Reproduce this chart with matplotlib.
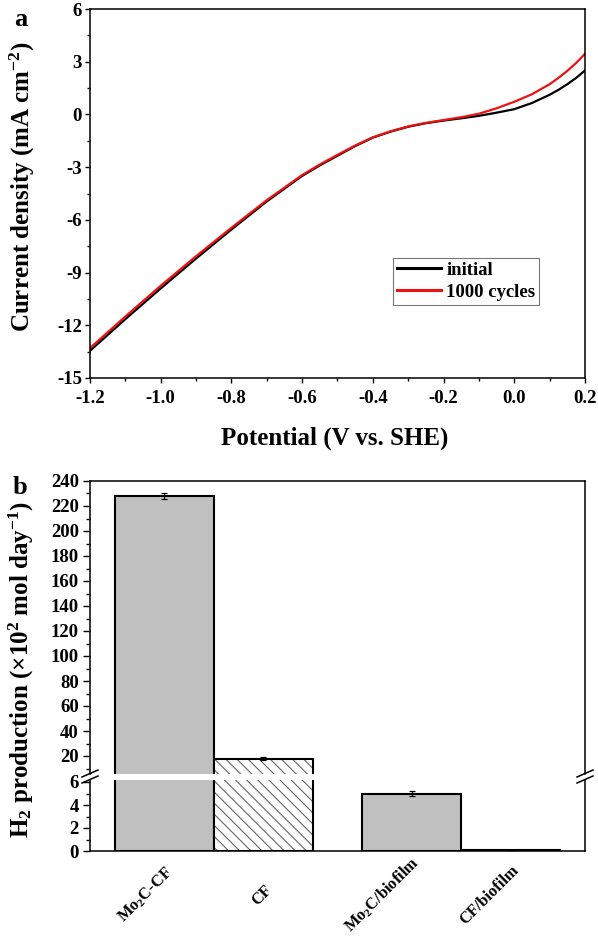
import matplotlib
matplotlib.use('Agg')
import matplotlib.pyplot as plt
from matplotlib.ticker import MultipleLocator, FormatStrFormatter
from matplotlib.transforms import ScaledTranslation

plt.rcParams['font.family'] = ['Liberation Serif', 'DejaVu Serif']
plt.rcParams['font.weight'] = 'bold'
plt.rcParams['axes.unicode_minus'] = False
plt.rcParams['mathtext.fontset'] = 'custom'
plt.rcParams['mathtext.rm'] = 'Liberation Serif:bold'
plt.rcParams['mathtext.it'] = 'Liberation Serif:bold'
plt.rcParams['mathtext.bf'] = 'Liberation Serif:bold'
plt.rcParams['mathtext.default'] = 'rm'
plt.rcParams['hatch.linewidth'] = 0.8

# panel a: polarisation curves
potential = [-1.2, -1.1, -1.0, -0.9, -0.8, -0.7, -0.6, -0.55, -0.5, -0.45, -0.4, -0.35,
             -0.3, -0.25, -0.2, -0.15, -0.1, -0.05, 0.0, 0.05, 0.1, 0.125, 0.15, 0.175, 0.2]
j_initial = [-13.45, -11.65, -9.9, -8.2, -6.55, -4.95, -3.5, -2.9, -2.35, -1.8, -1.32, -0.98,
             -0.7, -0.5, -0.35, -0.22, -0.08, 0.1, 0.3, 0.65, 1.12, 1.4, 1.72, 2.08, 2.5]
j_cycled = [-13.3, -11.5, -9.75, -8.07, -6.45, -4.88, -3.45, -2.85, -2.3, -1.77, -1.3, -0.96,
            -0.68, -0.48, -0.32, -0.16, 0.04, 0.35, 0.72, 1.15, 1.72, 2.08, 2.48, 2.93, 3.45]

# panel b: H2 production
samples = ['Mo$_2$C-CF', 'CF', 'Mo$_2$C/biofilm', 'CF/biofilm']
h2_rate = [228, 18, 5.0, 0.05]
h2_err = [2.5, 1.0, 0.2, 0.0]
positions = [0, 1, 2.5, 3.5]

W, H = 598, 936
fig = plt.figure(figsize=(W / 100, H / 100), dpi=100)

def box(left, top, right, bottom):
    return [left / W, 1 - bottom / H, (right - left) / W, (bottom - top) / H]

# ---- panel a ----
ax = fig.add_axes(box(90, 9, 585, 378))
ax.plot(potential, j_initial, color='black', lw=1.6, label='initial')
ax.plot(potential, j_cycled, color='#ee1111', lw=1.6, label='1000 cycles')
ax.set_xlim(-1.2, 0.2)
ax.set_ylim(-15, 6)
ax.xaxis.set_major_locator(MultipleLocator(0.2))
ax.xaxis.set_minor_locator(MultipleLocator(0.1))
ax.yaxis.set_major_locator(MultipleLocator(3))
ax.yaxis.set_minor_locator(MultipleLocator(1.5))
ax.xaxis.set_major_formatter(FormatStrFormatter('%.1f'))
ax.tick_params(which='both', direction='out', width=1, labelsize=13.5)
ax.tick_params(which='major', length=3.8)
ax.tick_params(which='minor', length=2.5)
ax.tick_params(axis='x', pad=5)
ax.tick_params(axis='y', pad=2)
for s in ax.spines.values():
    s.set_linewidth(1.1)
leg = ax.legend(loc='upper left', bbox_to_anchor=(0.612, 0.325), borderaxespad=0,
                fontsize=13.5, frameon=True, fancybox=False, framealpha=1,
                edgecolor='#777777', handlelength=2.35, handletextpad=0.3,
                labelspacing=0.25, borderpad=0.2)
leg.get_frame().set_linewidth(0.8)
for line in leg.get_lines():
    line.set_linewidth(2.2)

fig.text(335 / W, 1 - 438 / H, 'Potential (V vs. SHE)', ha='center', va='center',
         fontsize=18, fontweight='bold')
fig.text(22 / W, 1 - 187 / H, 'Current density (mA cm$^{-2}$)', ha='center',
         va='center', rotation=90, fontsize=18, fontweight='bold')
fig.text(14 / W, 1 - 8 / H, 'a', ha='left', va='top', fontsize=19, fontweight='bold')

# ---- panel b (broken y axis) ----
ax_hi = fig.add_axes(box(90, 481, 585, 773.5))
ax_lo = fig.add_axes(box(90, 779.7, 585, 851))
ax_hi.set_ylim(6, 240)
ax_lo.set_ylim(0, 6.2)

for a in (ax_hi, ax_lo):
    ybot = a.get_ylim()[0]
    idx = [i for i in range(len(samples)) if h2_rate[i] > ybot]
    for i in idx:
        if samples[i] == 'CF':
            a.bar(positions[i], h2_rate[i], width=1, color='white', edgecolor='#666666',
                  hatch='\\\\\\', lw=0)
            a.bar(positions[i], h2_rate[i], width=1, color='none', edgecolor='black', lw=1.5)
        else:
            a.bar(positions[i], h2_rate[i], width=1, color='#c0c0c0', edgecolor='black',
                  lw=1.5)
    a.errorbar([positions[i] for i in idx], [h2_rate[i] for i in idx],
               yerr=[h2_err[i] for i in idx], fmt='none', ecolor='black',
               elinewidth=0.9, capsize=2.5, capthick=0.9)
    a.set_xlim(-0.75, 4.25)
    a.tick_params(which='both', direction='out', width=1, labelsize=13.5, pad=3)
    a.tick_params(which='major', length=5)
    a.tick_params(which='minor', length=3)
    for s in a.spines.values():
        s.set_linewidth(1.1)

ax_hi.yaxis.set_minor_locator(MultipleLocator(10))
ax_hi.set_yticks(range(20, 241, 20))
ax_hi.spines['bottom'].set_visible(False)
ax_hi.set_xticks([])

ax_lo.yaxis.set_major_locator(MultipleLocator(2))
ax_lo.yaxis.set_minor_locator(MultipleLocator(1))
ax_lo.spines['top'].set_visible(False)
ax_lo.set_xticks(positions)
ax_lo.set_xticklabels(samples, rotation=45, ha='right', va='center', fontsize=11.8)
ax_lo.tick_params(axis='x', length=0, pad=0)
for lab in ax_lo.get_xticklabels():
    lab.set_transform(lab.get_transform() + ScaledTranslation(0.12, -0.44, fig.dpi_scale_trans))

# break marks on both spines
for xb in (90, 585):
    for yb in (773.5, 779.5):
        fig.add_artist(plt.Line2D([(xb - 8) / W, (xb + 8) / W],
                                  [1 - (yb + 3.5) / H, 1 - (yb - 3.5) / H],
                                  color='black', lw=1.1))

fig.text(21 / W, 1 - 669 / H, 'H$_2$ production (×10$^2$ mol day$^{-1}$)',
         ha='center', va='center', rotation=90, fontsize=18, fontweight='bold')
fig.text(13 / W, 1 - 476 / H, 'b', ha='left', va='top', fontsize=19, fontweight='bold')

fig.savefig('out.png', dpi=100)
